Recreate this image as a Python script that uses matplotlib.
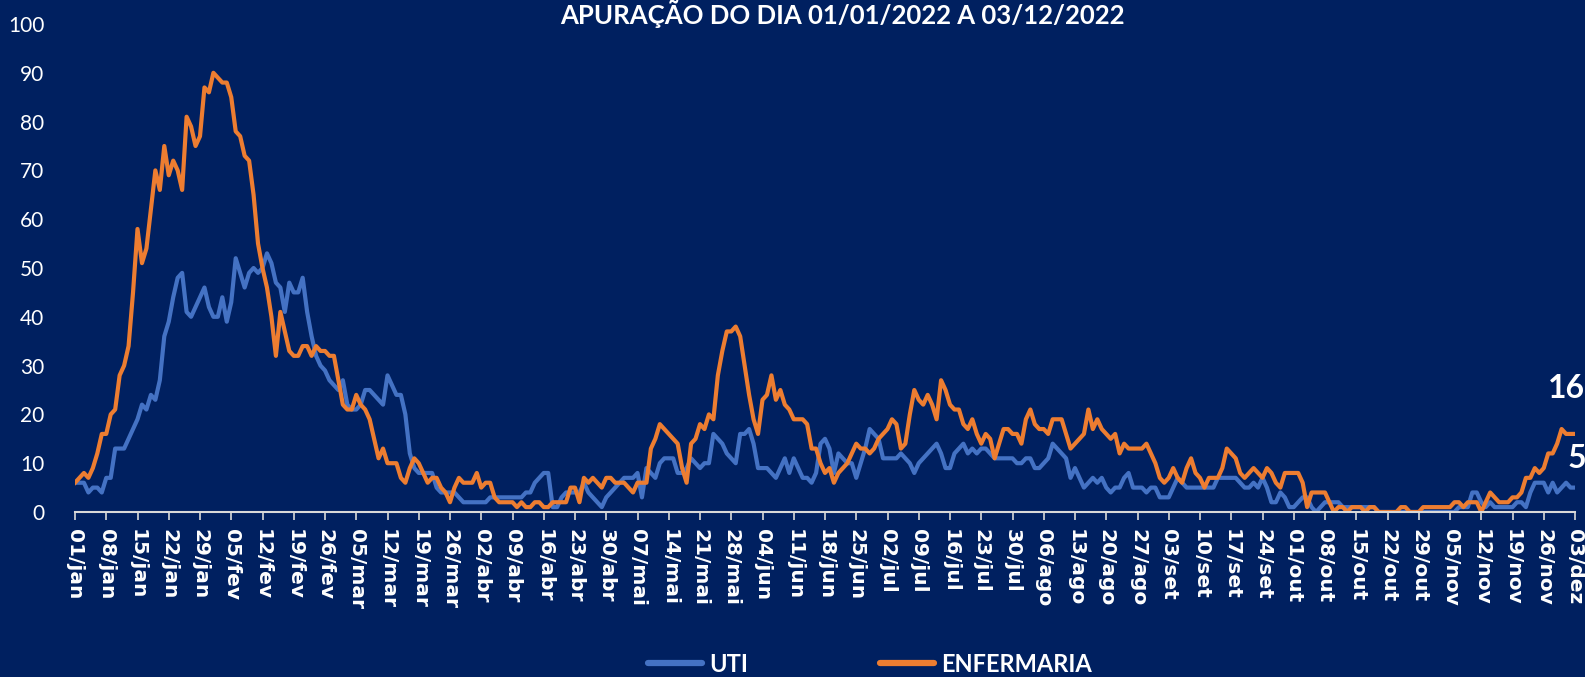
import numpy as np
import pandas as pd
import matplotlib
matplotlib.use("Agg")
from matplotlib import pyplot as plt

MESES = ['jan', 'fev', 'mar', 'abr', 'mai', 'jun', 'jul', 'ago', 'set', 'out', 'nov', 'dez']
dias = pd.date_range('2022-01-01', '2022-12-03', freq='D')

# internados por dia, uma linha por semana
uti = [
    6, 6, 6, 4, 5, 5, 4,
    7, 7, 13, 13, 13, 15, 17,
    19, 22, 21, 24, 23, 27, 36,
    39, 44, 48, 49, 41, 40, 42,
    44, 46, 42, 40, 40, 44, 39,
    43, 52, 49, 46, 49, 50, 49,
    50, 53, 51, 47, 46, 41, 47,
    45, 45, 48, 41, 36, 32, 30,
    29, 27, 26, 25, 27, 22, 21,
    21, 22, 25, 25, 24, 23, 22,
    28, 26, 24, 24, 20, 12, 9,
    8, 8, 8, 8, 5, 4, 4,
    4, 4, 3, 2, 2, 2, 2,
    2, 2, 3, 3, 3, 3, 3,
    3, 3, 3, 4, 4, 6, 7,
    8, 8, 1, 1, 3, 4, 4,
    4, 4, 6, 4, 3, 2, 1,
    3, 4, 5, 6, 7, 7, 7,
    8, 3, 9, 8, 7, 10, 11,
    11, 11, 8, 8, 9, 11, 10,
    9, 10, 10, 16, 15, 14, 12,
    11, 10, 16, 16, 17, 14, 9,
    9, 9, 8, 7, 9, 11, 8,
    11, 9, 7, 7, 6, 8, 14,
    15, 13, 8, 12, 11, 10, 10,
    7, 10, 13, 17, 16, 15, 11,
    11, 11, 11, 12, 11, 10, 8,
    10, 11, 12, 13, 14, 12, 9,
    9, 12, 13, 14, 12, 13, 12,
    13, 13, 12, 11, 11, 11, 11,
    11, 10, 10, 11, 11, 9, 9,
    10, 11, 14, 13, 12, 11, 7,
    9, 7, 5, 6, 7, 6, 7,
    5, 4, 5, 5, 7, 8, 5,
    5, 5, 4, 5, 5, 3, 3,
    3, 5, 7, 6, 5, 5, 5,
    5, 5, 5, 5, 7, 7, 7,
    7, 7, 6, 5, 5, 6, 5,
    7, 5, 2, 2, 4, 3, 1,
    1, 2, 3, 3, 1, 0, 1,
    2, 2, 2, 2, 1, 1, 1,
    1, 1, 1, 1, 1, 0, 0,
    0, 0, 0, 0, 0, 0, 0,
    0, 0, 0, 0, 0, 0, 0,
    0, 0, 1, 1, 1, 4, 4,
    2, 1, 2, 1, 1, 1, 1,
    1, 2, 2, 1, 4, 6, 6,
    6, 4, 6, 4, 5, 6, 5,
    5,
]

enfermaria = [
    6, 7, 8, 7, 9, 12, 16,
    16, 20, 21, 28, 30, 34, 45,
    58, 51, 54, 62, 70, 66, 75,
    69, 72, 70, 66, 81, 79, 75,
    77, 87, 86, 90, 89, 88, 88,
    85, 78, 77, 73, 72, 65, 55,
    50, 46, 40, 32, 41, 37, 33,
    32, 32, 34, 34, 32, 34, 33,
    33, 32, 32, 27, 22, 21, 21,
    24, 22, 21, 19, 15, 11, 13,
    10, 10, 10, 7, 6, 9, 11,
    10, 8, 6, 7, 7, 5, 4,
    2, 5, 7, 6, 6, 6, 8,
    5, 6, 6, 3, 2, 2, 2,
    2, 1, 2, 1, 1, 2, 2,
    1, 1, 2, 2, 2, 2, 5,
    5, 2, 7, 6, 7, 6, 5,
    7, 7, 6, 6, 6, 5, 4,
    6, 6, 6, 13, 15, 18, 17,
    16, 15, 14, 9, 6, 14, 15,
    18, 17, 20, 19, 28, 33, 37,
    37, 38, 36, 30, 24, 19, 16,
    23, 24, 28, 23, 25, 22, 21,
    19, 19, 19, 18, 13, 13, 10,
    8, 9, 6, 8, 9, 10, 12,
    14, 13, 13, 12, 13, 15, 16,
    17, 19, 18, 13, 14, 20, 25,
    23, 22, 24, 22, 19, 27, 25,
    22, 21, 21, 18, 17, 19, 16,
    14, 16, 15, 11, 14, 17, 17,
    16, 16, 14, 19, 21, 18, 17,
    17, 16, 19, 19, 19, 16, 13,
    14, 15, 16, 21, 17, 19, 17,
    16, 15, 16, 12, 14, 13, 13,
    13, 13, 14, 12, 10, 7, 6,
    7, 9, 7, 6, 9, 11, 8,
    7, 5, 7, 7, 7, 9, 13,
    12, 11, 8, 7, 8, 9, 8,
    7, 9, 8, 6, 5, 8, 8,
    8, 8, 6, 1, 4, 4, 4,
    4, 2, 0, 1, 1, 0, 1,
    1, 1, 0, 1, 1, 0, 0,
    0, 0, 0, 1, 1, 0, 0,
    0, 1, 1, 1, 1, 1, 1,
    1, 2, 2, 1, 2, 2, 2,
    0, 2, 4, 3, 2, 2, 2,
    3, 3, 4, 7, 7, 9, 8,
    9, 12, 12, 14, 17, 16, 16,
    16,
]

BG = '#002060'
AZUL = '#4472C4'
LARANJA = '#ED7D31'

plt.rcParams['font.family'] = ['Lato', 'DejaVu Sans']

fig = plt.figure(figsize=(15.85, 6.77), dpi=100, facecolor=BG)
ax = fig.add_axes([75 / 1585, 1 - 512 / 677, 1500 / 1585, 488 / 677])
ax.set_facecolor(BG)

x = np.arange(len(dias))
ax.plot(x, uti, color=AZUL, lw=3.0, label='UTI', solid_joinstyle='round')
ax.plot(x, enfermaria, color=LARANJA, lw=3.0, label='ENFERMARIA', solid_joinstyle='round')

ax.set_xlim(0, len(dias) - 1)
ax.set_ylim(0, 100)
ax.set_yticks(range(0, 101, 10))

pos = x[::7]
rotulos = ['%02d/%s' % (d.day, MESES[d.month - 1]) for d in dias[::7]]
ax.set_xticks(pos)
ax.set_xticklabels(rotulos, rotation=-90, fontweight='bold', fontsize=14.5,
                   family='DejaVu Sans')

for s in ['top', 'right', 'left']:
    ax.spines[s].set_visible(False)
ax.spines['bottom'].set_color('#D9D9D9')
ax.spines['bottom'].set_linewidth(1.5)
ax.tick_params(axis='x', colors='#D9D9D9', labelcolor='white', length=6, width=1.2, pad=6)
ax.tick_params(axis='y', length=0, labelcolor='white', labelsize=15, pad=22)

# rotulos do ultimo dia
ax.annotate(str(enfermaria[-1]), xy=(x[-1], enfermaria[-1]), xytext=(-6, 33),
            textcoords='offset points', ha='center', va='center',
            color='white', fontsize=23, fontweight='bold', annotation_clip=False)
ax.annotate(str(uti[-1]), xy=(x[-1], uti[-1]), xytext=(1, 21),
            textcoords='offset points', ha='center', va='center',
            color='white', fontsize=23, fontweight='bold', annotation_clip=False)

fig.text(842 / 1585, 1 - 14 / 677, 'APURAÇÃO DO DIA 01/01/2022 A 03/12/2022',
         ha='center', va='center', color='white', fontsize=18.5, fontweight='bold')

leg = fig.legend(loc='center', bbox_to_anchor=(870 / 1585, 1 - 664 / 677), ncol=2,
                 frameon=False, handlelength=2.3, columnspacing=5.6, handletextpad=0.3,
                 borderaxespad=0, borderpad=0,
                 prop={'weight': 'bold', 'size': 17})
for t in leg.get_texts():
    t.set_color('white')
for h in leg.legend_handles:
    h.set_linewidth(4.5)
    h.set_solid_capstyle('round')

fig.savefig('out.png', dpi=100, facecolor=BG)
